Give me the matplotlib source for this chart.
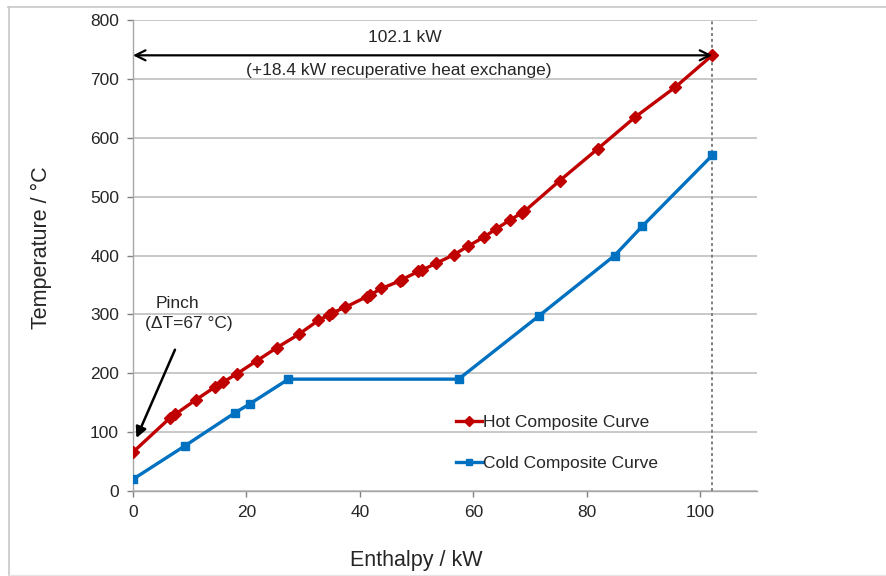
import matplotlib
matplotlib.use("Agg")
import matplotlib.pyplot as plt
from matplotlib.lines import Line2D

plt.rcParams['font.family'] = ['Liberation Sans', 'DejaVu Sans']

# Hot composite curve: cumulative enthalpy (kW) vs temperature (°C)
hot_h = [0, 6.5, 7.4, 11.1, 14.5, 15.9, 18.3, 21.8, 25.3, 29.2, 32.7, 34.5,
         35.0, 37.4, 41.2, 41.8, 43.8, 47.1, 47.4, 50.3, 50.9, 53.5, 56.5,
         59.1, 61.8, 64.0, 66.4, 68.5, 69.0, 75.2, 81.9, 88.5, 95.6, 102.1]
hot_t = [66, 124, 130, 155, 177, 185, 199, 221, 243, 266, 290, 299,
         302, 312, 330, 333, 344, 357, 359, 373, 375, 387, 401,
         416, 431, 445, 460, 472, 475, 527, 581, 635, 686, 740]

# Cold composite curve
cold_h = [0, 9.2, 18.0, 20.6, 27.4, 57.4, 71.5, 84.9, 89.8, 102.1]
cold_t = [20, 77, 133, 148, 190, 190, 297, 400, 450, 570]

total_duty = 102.1
x_ticks = [0, 20, 40, 60, 80, 100]
y_ticks = [0, 100, 200, 300, 400, 500, 600, 700, 800]

hot_color = '#C00000'
cold_color = '#0070C0'
grid_color = '#BFBFBF'
text_color = '#262626'
fs = 12.5

fig = plt.figure(figsize=(8.86, 5.76), dpi=100)
fig.patch.set_facecolor('white')

# outer chart-area border
fig.add_artist(Line2D([8/886, 1.0], [1 - 7/576, 1 - 7/576], color='#C8C8C8', lw=1.2,
                      transform=fig.transFigure))
fig.add_artist(Line2D([9/886, 9/886], [0, 1 - 7/576], color='#C8C8C8', lw=1.2,
                      transform=fig.transFigure))
fig.add_artist(Line2D([9/886, 1.0], [1/576, 1/576], color='#E6E6E6', lw=1.0,
                      transform=fig.transFigure))

ax = fig.add_axes([133/886, 1 - 491/576, (757 - 133)/886, (491 - 20)/576])
ax.set_xlim(0, 110)
ax.set_ylim(0, 800)
ax.set_xticks(x_ticks)
ax.set_yticks(y_ticks)
ax.tick_params(axis='both', labelsize=fs, colors='#808080', labelcolor=text_color,
               length=4, width=1)
ax.tick_params(axis='y', pad=6)
ax.tick_params(axis='x', pad=6)
for s in ['top', 'right']:
    ax.spines[s].set_visible(False)
for s in ['left', 'bottom']:
    ax.spines[s].set_color('#A6A6A6')
    ax.spines[s].set_linewidth(1.0)
ax.yaxis.grid(True, color=grid_color, lw=1.2)
ax.set_axisbelow(True)

ax.set_xlabel('Enthalpy / kW', fontsize=15.5, color=text_color)
ax.set_ylabel('Temperature / °C', fontsize=15.5, color=text_color)
ax.xaxis.set_label_coords(0.4535, -0.147)
ax.yaxis.set_label_coords(-0.146, 0.516)
ax.xaxis.label.set_va('center')
ax.yaxis.label.set_va('center')

# total duty marker line
ax.axvline(total_duty, color='#7F7F7F', lw=1.4, ls=(0, (1.5, 1.5)), zorder=1)

ax.plot(hot_h, hot_t, color=hot_color, lw=2.4, marker='D', ms=6,
        label='Hot Composite Curve', zorder=3)
ax.plot(cold_h, cold_t, color=cold_color, lw=2.4, marker='s', ms=6,
        label='Cold Composite Curve', zorder=3)

# total duty annotation
ax.annotate('', xy=(total_duty, hot_t[-1]), xytext=(0, hot_t[-1]),
            arrowprops=dict(arrowstyle='<->', color='black', lw=1.6,
                            mutation_scale=18, shrinkA=0, shrinkB=0))
ax.text(48.0, 771, f'{total_duty} kW', ha='center', va='center',
        fontsize=fs, color=text_color)
ax.text(46.9, 714, '(+18.4 kW recuperative heat exchange)',
        ha='center', va='center', fontsize=fs, color=text_color)

# pinch annotation
ax.text(7.9, 319, 'Pinch', ha='center', va='center', fontsize=fs, color=text_color)
ax.text(9.9, 285, '(ΔT=67 °C)', ha='center', va='center', fontsize=fs, color=text_color)
ax.annotate('', xy=(0.6, 90), xytext=(7.4, 240),
            arrowprops=dict(arrowstyle='-|>', color='black', lw=1.8,
                            mutation_scale=16, shrinkA=0, shrinkB=0))

ax.legend(loc='upper left', bbox_to_anchor=(0.504, 0.18), frameon=False,
          fontsize=fs, handlelength=1.5, handletextpad=0.05, labelspacing=1.5,
          borderpad=0, numpoints=1, markerscale=0.8, labelcolor=text_color)

fig.savefig('out.png', dpi=100, facecolor='white')
